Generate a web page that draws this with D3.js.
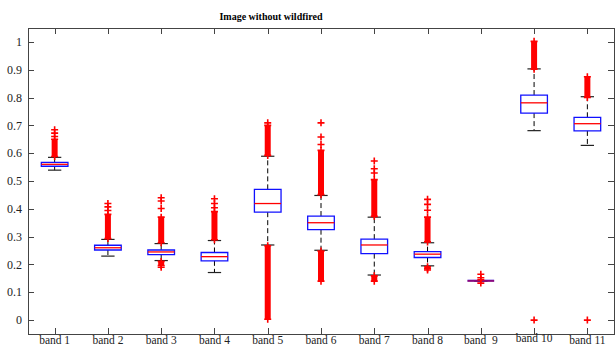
<!DOCTYPE html>
<html>
<head>
<meta charset="utf-8">
<script src="https://cdn.jsdelivr.net/npm/d3@7"></script>
<style>
  body { margin: 0; background: #fff; }
  text { font-family: "Liberation Serif", "DejaVu Serif", serif; fill: #222; }
</style>
</head>
<body>
<svg id="chart"></svg>
<script>
// band names and box statistics
var bands = ["band 1", "band 2", "band 3", "band 4", "band 5", "band 6", "band 7", "band 8", "band  9", "band 10", "band 11"];
var whiskerLo = [0.539, 0.230, 0.214, 0.171, 0.270, 0.251, 0.162, 0.195, 0.141, 0.681, 0.628];
var q1 = [0.553, 0.252, 0.235, 0.213, 0.388, 0.325, 0.239, 0.225, 0.141, 0.744, 0.680];
var median = [0.560, 0.260, 0.245, 0.228, 0.419, 0.350, 0.270, 0.237, 0.141, 0.781, 0.706];
var q3 = [0.567, 0.269, 0.252, 0.243, 0.470, 0.374, 0.291, 0.246, 0.141, 0.809, 0.729];
var whiskerHi = [0.585, 0.290, 0.275, 0.286, 0.589, 0.448, 0.370, 0.278, 0.141, 0.903, 0.803];

// dense runs of outliers (so many '+' marks that they merge), [from, to]
var denseHi = [[0.588, 0.650], [0.293, 0.380], [0.278, 0.370], [0.289, 0.390], [0.592, 0.700],
               [0.451, 0.610], [0.373, 0.505], [0.281, 0.370], null, [0.902, 1.002], [0.800, 0.875]];
var denseLo = [null, null, [0.196, 0.211], null, [0.003, 0.267], [0.140, 0.248], [0.140, 0.159],
               [0.185, 0.192], null, null, null];
// single outliers that stand apart
var sparse = [[0.660, 0.672, 0.684], [0.394, 0.407, 0.419], [0.401, 0.428, 0.440, 0.190],
              [0.404, 0.419, 0.436], [0.709], [0.631, 0.658, 0.709], [0.529, 0.544, 0.572],
              [0.395, 0.416, 0.434, 0.180], [0.133, 0.145, 0.152, 0.165], [0.0], [0.0]];

var yTicks = [0, 0.1, 0.2, 0.3, 0.4, 0.5, 0.6, 0.7, 0.8, 0.9, 1];

var width = 616, height = 351;
var mLeft = 28, mRight = 614, mTop = 28, mBottom = 334;

var svg = d3.select("#chart").attr("width", width).attr("height", height);

var x = d3.scaleLinear().domain([0.5, bands.length + 0.5]).range([mLeft, mRight]);
var y = d3.scaleLinear().domain([-0.05, 1.05]).range([mBottom, mTop]);

var boxW = x(1.25) - x(1);   // half box width (box width 0.5)
var capW = x(1.125) - x(1);  // half cap width
var mk = 3.5;                // half size of '+' marker

svg.append("text")
  .attr("x", 271).attr("y", 20)
  .attr("text-anchor", "middle")
  .style("font-size", "10px")
  .style("font-weight", "bold")
  .style("fill", "#000")
  .text("Image without wildfired");

// axes box with inward ticks on all four sides
var frame = svg.append("g").attr("stroke", "#444").attr("stroke-width", 1).attr("fill", "none");
frame.append("rect").attr("x", mLeft + 0.5).attr("y", mTop + 0.5).attr("width", mRight - mLeft).attr("height", mBottom - mTop);

bands.forEach(function(b, i) {
  var xi = Math.round(x(i + 1)) + 0.5;
  frame.append("line").attr("x1", xi).attr("x2", xi).attr("y1", mBottom).attr("y2", mBottom - 6);
  frame.append("line").attr("x1", xi).attr("x2", xi).attr("y1", mTop).attr("y2", mTop + 6);
});
yTicks.forEach(function(t) {
  var yi = Math.round(y(t)) + 0.5;
  frame.append("line").attr("x1", mLeft).attr("x2", mLeft + 6).attr("y1", yi).attr("y2", yi);
  frame.append("line").attr("x1", mRight).attr("x2", mRight - 6).attr("y1", yi).attr("y2", yi);
});

svg.selectAll(".ylab").data(yTicks).enter().append("text")
  .attr("class", "ylab")
  .attr("x", 22).attr("y", d => y(d))
  .attr("dy", "0.35em")
  .attr("text-anchor", "end")
  .style("font-size", "12px")
  .text(d => d3.format("")(d));

svg.selectAll(".xlab").data(bands).enter().append("text")
  .attr("class", "xlab")
  .attr("x", (d, i) => x(i + 1))
  .attr("y", (d, i) => i == 9 ? 342 : 344)
  .attr("text-anchor", "middle")
  .style("font-size", "11.5px")
  .style("white-space", "pre")
  .text(d => d);

var g = svg.append("g");

bands.forEach(function(b, i) {
  var cx = x(i + 1);

  // dashed whiskers
  g.append("line").attr("x1", cx).attr("x2", cx).attr("y1", y(q3[i])).attr("y2", y(whiskerHi[i]))
    .attr("stroke", "#000").attr("stroke-dasharray", "5,3");
  g.append("line").attr("x1", cx).attr("x2", cx).attr("y1", y(q1[i])).attr("y2", y(whiskerLo[i]))
    .attr("stroke", "#000").attr("stroke-dasharray", "5,3");
  // caps
  [whiskerHi[i], whiskerLo[i]].forEach(function(v) {
    g.append("line").attr("x1", cx - capW).attr("x2", cx + capW).attr("y1", y(v)).attr("y2", y(v))
      .attr("stroke", "#222").attr("stroke-width", 1.2);
  });

  // box (path so a collapsed box still shows as a line)
  var flat = q1[i] == q3[i];
  g.append("path")
    .attr("d", "M" + (cx - boxW) + "," + y(q3[i]) + "H" + (cx + boxW) + "V" + y(q1[i]) + "H" + (cx - boxW) + "Z")
    .attr("fill", "none").attr("stroke", "#1010ff").attr("stroke-width", flat ? 2 : 1.3);
  g.append("line").attr("x1", cx - boxW).attr("x2", cx + boxW).attr("y1", y(median[i])).attr("y2", y(median[i]))
    .attr("stroke", "#ff0000").attr("stroke-width", flat ? 2 : 1.3)
    .attr("stroke-opacity", flat ? 0.5 : 1);

  // outliers
  var red = "#ff0000";
  [denseHi[i], denseLo[i]].forEach(function(r) {
    if (!r) return;
    g.append("rect").attr("x", cx - 3).attr("width", 6)
      .attr("y", y(r[1])).attr("height", y(r[0]) - y(r[1]))
      .attr("fill", red);
    r.forEach(function(v) { plus(cx, y(v)); });
  });
  sparse[i].forEach(function(v) { plus(cx, y(v)); });
});

function plus(px, py) {
  g.append("path")
    .attr("d", "M" + (px - mk) + "," + py + "H" + (px + mk) + "M" + px + "," + (py - mk) + "V" + (py + mk))
    .attr("stroke", "#ff0000").attr("stroke-width", 1.6).attr("fill", "none");
}
</script>
</body>
</html>
